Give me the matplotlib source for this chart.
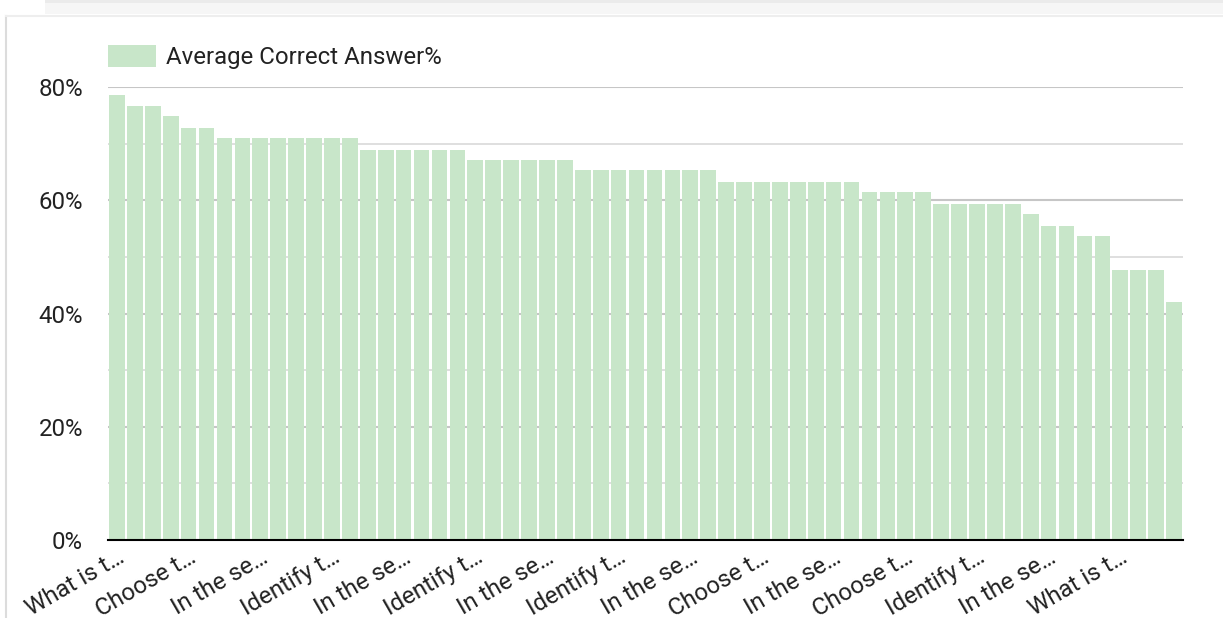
import matplotlib
matplotlib.use("Agg")
import matplotlib.pyplot as plt
from matplotlib.patches import Rectangle
from matplotlib.ticker import MultipleLocator, FuncFormatter
import numpy as np

plt.rcParams['font.family'] = ['Roboto', 'DejaVu Sans']

# average correct answer per question, sorted high to low (fraction)
scores = ([0.787, 0.767, 0.767, 0.749, 0.728, 0.728]
          + [0.710] * 8 + [0.689] * 6 + [0.671] * 6 + [0.654] * 8
          + [0.633] * 8 + [0.615] * 4 + [0.594] * 5 + [0.576]
          + [0.555] * 2 + [0.537] * 2 + [0.477] * 3 + [0.420])
# only every 4th question is labelled on the axis
tick_labels = ["What is t…", "Choose t…", "In the se…", "Identify t…",
               "In the se…", "Identify t…", "In the se…", "Identify t…",
               "In the se…", "Choose t…", "In the se…", "Choose t…",
               "Identify t…", "In the se…", "What is t…"]
series_name = "Average Correct Answer%"

FS = 17.3
W, H = 1223, 618
fig = plt.figure(figsize=(W / 100, H / 100), dpi=100)

# card frame / shadow of the card above
fig.add_artist(Rectangle((45 / W, 1 - 14 / H), 1, 14 / H, transform=fig.transFigure,
                         facecolor='#f6f6f6', edgecolor='none'))
fig.add_artist(Rectangle((45 / W, 1 - 3 / H), 1, 3 / H, transform=fig.transFigure,
                         facecolor='#ebebeb', edgecolor='none'))
fig.add_artist(plt.Line2D([6 / W, 6 / W], [0, 1 - 16 / H], transform=fig.transFigure,
                          color='#dcdcdc', lw=1.5))
fig.add_artist(plt.Line2D([6 / W, 1], [1 - 16 / H, 1 - 16 / H], transform=fig.transFigure,
                          color='#eeeeee', lw=1.5))

ax = fig.add_axes([108 / W, 1 - 540 / H, (1183 - 108) / W, (540 - 87.2) / H])

x = np.arange(len(scores))
ax.bar(x, scores, width=0.87, color='#c8e6c9', label=series_name, zorder=2)

ax.set_xlim(-0.5, len(scores) - 0.5)
ax.set_ylim(0, 0.8)
ax.yaxis.set_major_locator(MultipleLocator(0.2))
ax.yaxis.set_minor_locator(MultipleLocator(0.1))
ax.yaxis.set_major_formatter(FuncFormatter(lambda v, p: f"{v * 100:.0f}%"))
ax.grid(axis='y', which='major', color='#c6c6c6', lw=1.5, zorder=0)
ax.grid(axis='y', which='minor', color='#d6d6d6', lw=1.1, zorder=0)
ax.set_axisbelow(True)

ax.set_xticks(x[::4])
ax.set_xticklabels(tick_labels, rotation=30, ha='right', rotation_mode='anchor',
                   fontsize=FS, color='#222222')
ax.tick_params(axis='x', length=0, pad=4)
ax.tick_params(axis='y', which='both', length=0, pad=18, labelsize=FS, labelcolor='#222222')

for s in ['top', 'right', 'left']:
    ax.spines[s].set_visible(False)
ax.spines['bottom'].set_color('#000000')
ax.spines['bottom'].set_linewidth(1.5)
ax.spines['bottom'].set_zorder(3)

leg = ax.legend(loc='lower left', bbox_to_anchor=(108 / W, 1 - 69 / H),
                bbox_transform=fig.transFigure, frameon=False, fontsize=FS,
                handlelength=2.0, handleheight=1.05, handletextpad=0.42,
                borderpad=0, borderaxespad=0)
for t in leg.get_texts():
    t.set_color('#222222')

fig.savefig("out.png", dpi=100)
